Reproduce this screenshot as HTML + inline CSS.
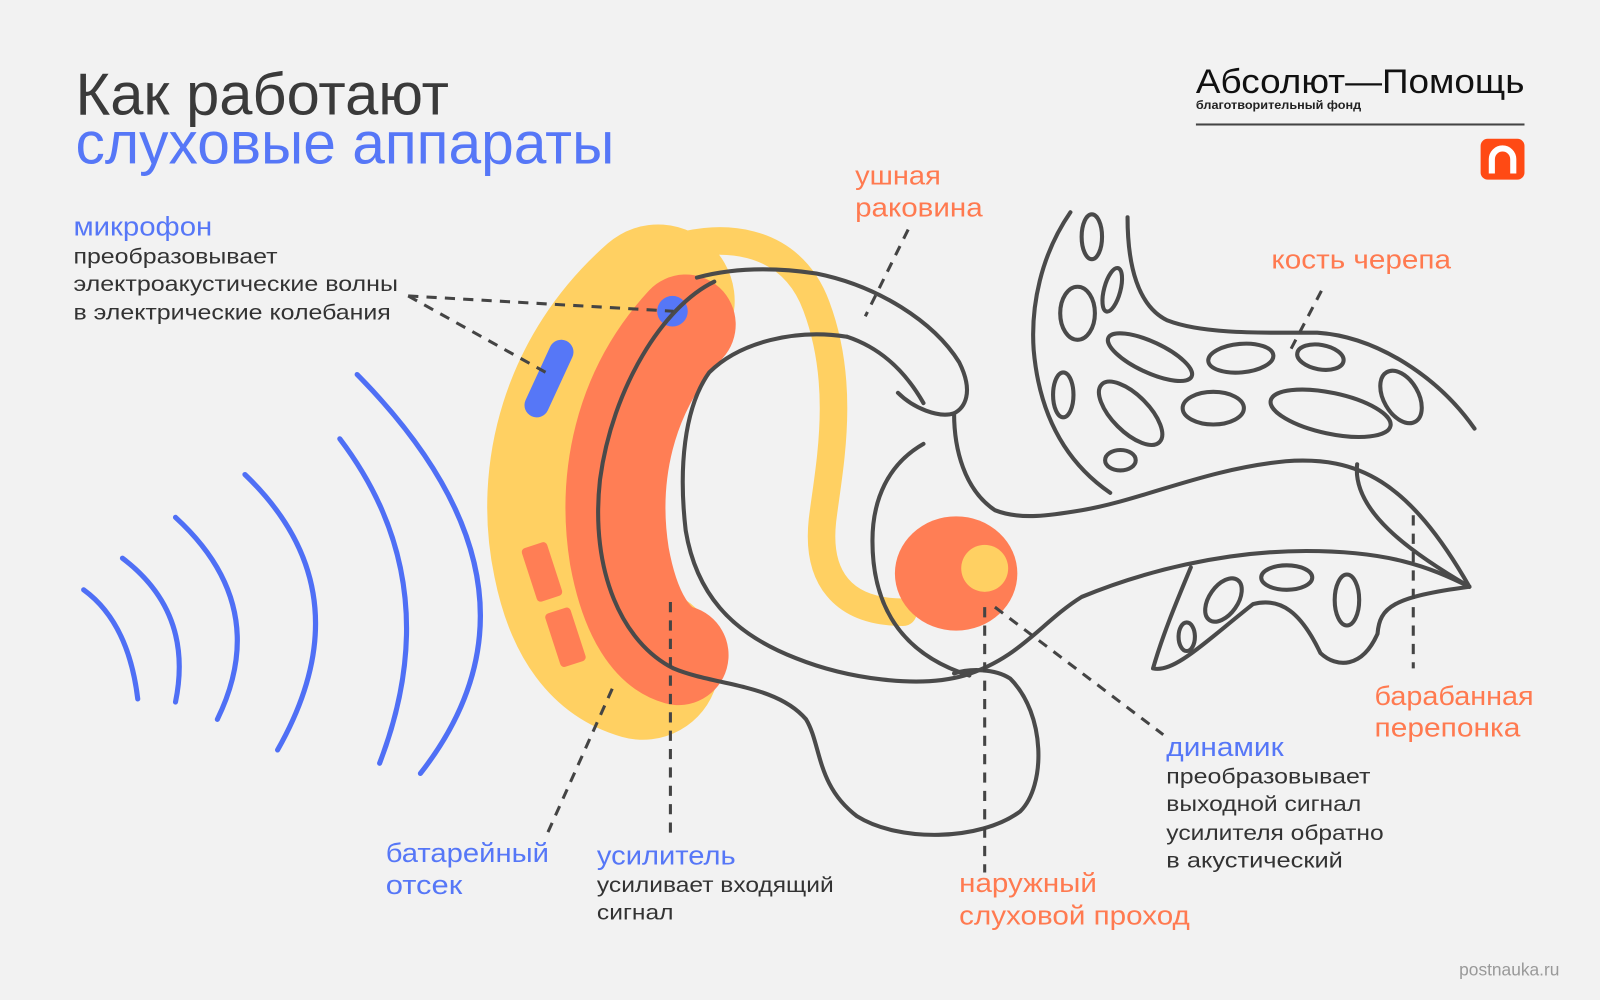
<!DOCTYPE html>
<html><head><meta charset="utf-8"><style>
html,body{margin:0;padding:0;background:#f2f2f2;}
svg{display:block;}
text{font-family:"Liberation Sans",sans-serif;}
</style></head><body>
<svg width="1600" height="1000" viewBox="0 0 1568 980" xmlns="http://www.w3.org/2000/svg">
<rect width="1568" height="980" fill="#f2f2f2"/>
<text x="74" y="112" font-size="58" fill="#3a3a3a" textLength="366" lengthAdjust="spacingAndGlyphs">Как работают</text>
<text x="74" y="160" font-size="58" fill="#5677f7" textLength="528" lengthAdjust="spacingAndGlyphs">слуховые аппараты</text>
<text x="1172" y="91" font-size="34" fill="#111" textLength="322" lengthAdjust="spacingAndGlyphs">Абсолют—Помощь</text>
<text x="1172" y="107" font-size="12" fill="#222" font-weight="bold" textLength="162" lengthAdjust="spacingAndGlyphs">благотворительный фонд</text>
<rect x="1172" y="121" width="322" height="2" fill="#444"/>
<rect x="1451" y="136" width="43" height="40" rx="7" fill="#ff4a14"/>
<path d="M1462,170 V156 a10.5,10.5 0 0 1 21,0 V170" fill="none" stroke="#fff" stroke-width="6"/>
<g fill="none" stroke="#4f6ff5" stroke-width="5" stroke-linecap="round">
<path d="M82,578 Q126,610 135,685"/>
<path d="M120,547 Q190,600 172,688"/>
<path d="M172,507 Q267,594 213,705"/>
<path d="M240,465 Q360,580 272,735"/>
<path d="M333,430 Q440,571 372,748"/>
<path d="M350,367 Q555,575 412,758"/>
</g>
<path d="M645,295 C565,365 540,465 558,550 C570,610 595,640 630,650" fill="none" stroke="#ffd062" stroke-width="150" stroke-linecap="round"/>
<path d="M672,318 C610,385 595,470 607,545 C618,605 640,635 665,642" fill="none" stroke="#ff7e55" stroke-width="98" stroke-linecap="round"/>
<path d="M645,248 C705,225 775,232 800,300 C830,380 812,460 806,510 C800,565 825,600 885,600" fill="none" stroke="#ffd062" stroke-width="27" stroke-linecap="round"/>
<ellipse cx="937" cy="562" rx="60" ry="56" fill="#ff7e55"/>
<circle cx="965" cy="557" r="23" fill="#ffd062"/>
<circle cx="659" cy="305" r="15" fill="#5677f7"/>
<line x1="550" y1="345" x2="526" y2="397" stroke="#5677f7" stroke-width="24" stroke-linecap="round"/>
<rect x="518" y="533" width="26" height="55" rx="4" fill="#ff7e55" transform="rotate(-18 531 560)"/>
<rect x="541" y="597" width="26" height="55" rx="4" fill="#ff7e55" transform="rotate(-18 554 624)"/>
<g fill="none" stroke="#4a4a4a" stroke-width="4" stroke-linecap="round" stroke-linejoin="round">
<path d="M700,276 C650,300 600,380 588,470 C578,560 610,630 660,655 C700,672 760,670 790,705 C805,730 800,770 840,800 C880,825 960,825 1000,795 C1025,770 1025,700 990,665 C975,655 950,655 935,660"/>
<path d="M683,272 C720,262 760,262 800,268 C860,280 915,315 940,355 C955,385 945,400 935,405 C920,410 895,400 880,385"/>
<path d="M935,405 C935,440 945,480 975,500 C1000,510 1030,505 1060,500 C1120,490 1180,460 1260,452 C1330,447 1380,470 1440,575"/>
<path d="M1330,455 C1325,500 1380,540 1440,575"/>
<path d="M830,330 C780,322 725,335 695,365 C670,400 665,460 672,520 C682,580 715,620 780,645 C830,665 900,675 945,662 C1000,645 1020,610 1060,585 C1120,560 1200,540 1280,540 C1360,540 1400,555 1440,575"/>
<path d="M830,330 C860,340 885,360 905,395"/>
<path d="M905,435 C870,455 855,490 855,530 C855,590 880,640 950,662"/>
<path d="M1049,208 C1020,250 1010,300 1013,343 C1018,400 1040,450 1088,483"/>
<path d="M1105,213 C1105,260 1115,300 1144,314 C1180,328 1240,326 1291,326 C1350,330 1410,370 1445,420"/>
<path d="M1167,556 C1155,585 1140,620 1130,655 C1150,660 1180,630 1228,592 C1255,585 1275,600 1294,640 C1310,655 1335,655 1350,621 C1352,595 1365,585 1440,575"/>
<ellipse cx="1070" cy="232" rx="10" ry="22"/>
<ellipse cx="1090" cy="284" rx="8" ry="22" transform="rotate(15 1090 284)"/>
<ellipse cx="1056" cy="307" rx="17" ry="26"/>
<ellipse cx="1042" cy="387" rx="10" ry="22"/>
<ellipse cx="1127" cy="350" rx="45" ry="15" transform="rotate(25 1127 350)"/>
<ellipse cx="1216" cy="351" rx="32" ry="14" transform="rotate(-5 1216 351)"/>
<ellipse cx="1294" cy="350" rx="23" ry="12" transform="rotate(10 1294 350)"/>
<ellipse cx="1108" cy="405" rx="40" ry="18" transform="rotate(45 1108 405)"/>
<ellipse cx="1189" cy="400" rx="30" ry="16"/>
<ellipse cx="1304" cy="405" rx="60" ry="20" transform="rotate(12 1304 405)"/>
<ellipse cx="1373" cy="389" rx="17" ry="28" transform="rotate(-30 1373 389)"/>
<ellipse cx="1098" cy="451" rx="15" ry="10"/>
<ellipse cx="1199" cy="588" rx="14" ry="24" transform="rotate(35 1199 588)"/>
<ellipse cx="1261" cy="566" rx="25" ry="12"/>
<ellipse cx="1320" cy="588" rx="12" ry="25"/>
<ellipse cx="1163" cy="624" rx="8" ry="14"/>
</g>
<g stroke="#444" stroke-width="3" stroke-dasharray="10 8" fill="none">
<line x1="400" y1="290" x2="660" y2="305"/>
<line x1="400" y1="290" x2="535" y2="365"/>
<line x1="890" y1="225" x2="848" y2="310"/>
<line x1="1295" y1="285" x2="1262" y2="348"/>
<line x1="1385" y1="505" x2="1385" y2="655"/>
<line x1="975" y1="595" x2="1140" y2="720"/>
<line x1="965" y1="595" x2="965" y2="855"/>
<line x1="657" y1="590" x2="657" y2="820"/>
<line x1="600" y1="675" x2="535" y2="820"/>
</g>
<g font-size="26">
<text x="72" y="231" fill="#5677f7" textLength="136" lengthAdjust="spacingAndGlyphs">микрофон</text>
<text x="838" y="181" fill="#ff7a50" textLength="84" lengthAdjust="spacingAndGlyphs">ушная</text>
<text x="838" y="212" fill="#ff7a50" textLength="125" lengthAdjust="spacingAndGlyphs">раковина</text>
<text x="1246" y="263" fill="#ff7a50" textLength="176" lengthAdjust="spacingAndGlyphs">кость черепа</text>
<text x="1347" y="691" fill="#ff7a50" textLength="156" lengthAdjust="spacingAndGlyphs">барабанная</text>
<text x="1347" y="722" fill="#ff7a50" textLength="143" lengthAdjust="spacingAndGlyphs">перепонка</text>
<text x="1143" y="741" fill="#5677f7" textLength="115" lengthAdjust="spacingAndGlyphs">динамик</text>
<text x="940" y="874" fill="#ff7a50" textLength="135" lengthAdjust="spacingAndGlyphs">наружный</text>
<text x="940" y="906" fill="#ff7a50" textLength="226" lengthAdjust="spacingAndGlyphs">слуховой проход</text>
<text x="585" y="847" fill="#5677f7" textLength="136" lengthAdjust="spacingAndGlyphs">усилитель</text>
<text x="378" y="845" fill="#5677f7" textLength="160" lengthAdjust="spacingAndGlyphs">батарейный</text>
<text x="378" y="876" fill="#5677f7" textLength="75" lengthAdjust="spacingAndGlyphs">отсек</text>
</g>
<g font-size="21" fill="#333">
<text x="72" y="258" textLength="200" lengthAdjust="spacingAndGlyphs">преобразовывает</text>
<text x="72" y="285" textLength="318" lengthAdjust="spacingAndGlyphs">электроакустические волны</text>
<text x="72" y="313" textLength="311" lengthAdjust="spacingAndGlyphs">в электрические колебания</text>
<text x="1143" y="768" textLength="200" lengthAdjust="spacingAndGlyphs">преобразовывает</text>
<text x="1143" y="795" textLength="191" lengthAdjust="spacingAndGlyphs">выходной сигнал</text>
<text x="1143" y="823" textLength="213" lengthAdjust="spacingAndGlyphs">усилителя обратно</text>
<text x="1143" y="850" textLength="173" lengthAdjust="spacingAndGlyphs">в акустический</text>
<text x="585" y="874" textLength="232" lengthAdjust="spacingAndGlyphs">усиливает входящий</text>
<text x="585" y="901" textLength="75" lengthAdjust="spacingAndGlyphs">сигнал</text>
</g>
<text x="1430" y="956" font-size="17" fill="#999">postnauka.ru</text>
</svg>
</body></html>
